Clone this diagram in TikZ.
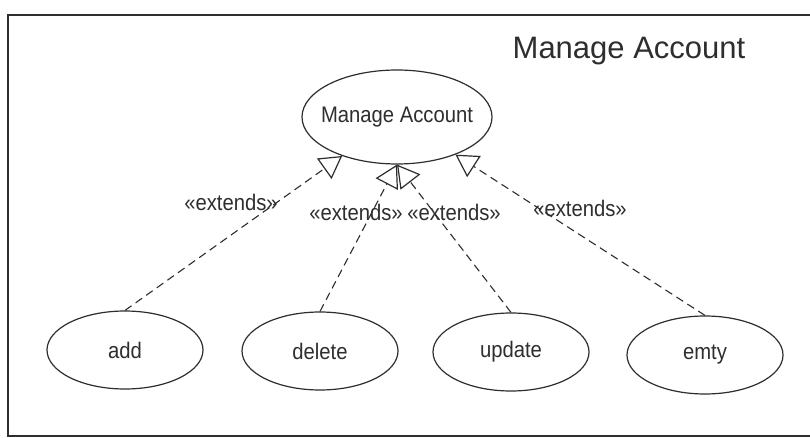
\documentclass[tikz,border=0pt]{standalone}
\usepackage{fontspec}
\setmainfont{Liberation Sans}
\newfontfamily\narrowsans[FakeStretch=0.9]{Liberation Sans}
\usetikzlibrary{shapes.geometric,arrows.meta}
\definecolor{ink}{HTML}{2E2E2E}
\tikzset{
  uc/.style={ellipse, draw=ink, line width=1.2pt, inner sep=0pt, text=ink,
    minimum width=156pt, minimum height=78pt, font=\narrowsans\fontsize{22.5}{26}\selectfont},
  ext/.style={draw=ink, line width=1.1pt, dash pattern=on 8pt off 5pt,
    -{Triangle[open, length=22pt, width=25pt, line width=1.2pt]}},
  lbl/.style={text=ink, inner sep=0pt, font=\narrowsans\fontsize{22.5}{26}\selectfont},
}
\begin{document}
\begin{tikzpicture}[x=1pt, y=-1pt]
\useasboundingbox (0,0) rectangle (810,438);
\fill[white] (0,0) rectangle (810,438);
% frame
\draw[ink, line width=1.8pt] (811,15) -- (8,15) -- (8,436) -- (811,436);
\node[text=ink, inner sep=0pt, font=\fontsize{31}{36}\selectfont] (title) at (629,51) {Manage Account};
% use cases
\node[uc, minimum width=190pt, minimum height=94pt] (main) at (397,117) {\makebox[0pt]{Manage Account}};
\node[uc] (add) at (125,350) {\makebox[0pt]{add}};
\node[uc] (delete) at (320,351) {\makebox[0pt]{delete}};
\node[uc] (update) at (511,352) {\makebox[0pt]{update}};
\node[uc] (emty) at (705,355) {\makebox[0pt]{emty}};
% extends
\draw[ext] (add.north) -- (main);
\draw[ext] (delete.north) -- (main.south);
\draw[ext] (update.north) -- (main.south);
\draw[ext] (emty.north) -- (main);
\node[lbl] (l1) at (231,202) {«extends»};
\node[lbl] (l2) at (356,212) {«extends»};
\node[lbl] (l3) at (454,212) {«extends»};
\node[lbl] (l4) at (580,208) {«extends»};
\end{tikzpicture}
\end{document}
